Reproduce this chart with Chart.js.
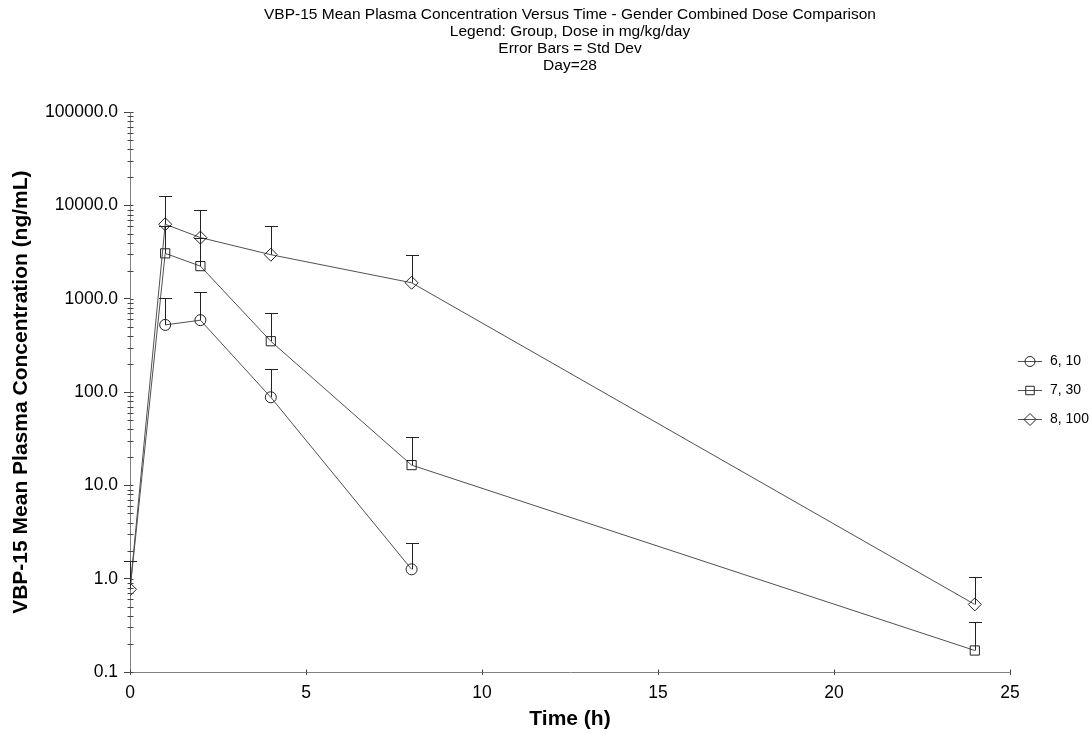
<!DOCTYPE html>
<html><head><meta charset="utf-8">
<script src="https://cdn.jsdelivr.net/npm/chart.js@4.4.1/dist/chart.umd.min.js"></script>
<style>html,body{margin:0;padding:0;background:#fff;} #wrap{width:1092px;height:734px;}</style>
</head><body><div id="wrap"><canvas id="c" width="1092" height="734"></canvas></div>
<script>
const titleLines = [
  'VBP-15 Mean Plasma Concentration Versus Time - Gender Combined Dose Comparison',
  'Legend: Group, Dose in mg/kg/day',
  'Error Bars = Std Dev',
  'Day=28'
];
const seriesLabels = ['6, 10', '7, 30', '8, 100'];
const timesG6 = [1, 2, 4, 8];
const meanG6  = [525, 590, 88, 1.26];
const sdG6    = [495, 590, 87, 1.16];
const timesG7 = [0, 1, 2, 4, 8, 24];
const meanG7  = [0.75, 3070, 2240, 351, 16.5, 0.17];
const sdG7    = [0, 2900, 2260, 356, 16.5, 0.17];
const timesG8 = [0, 1, 2, 4, 8, 24];
const meanG8  = [0.77, 6300, 4530, 2970, 1486, 0.53];
const sdG8    = [0.76, 6300, 4470, 3020, 1484, 0.51];
const xTicks = [0, 5, 10, 15, 20, 25];
const yTicks = [0.1, 1, 10, 100, 1000, 10000, 100000];

const FONT = '"Liberation Sans", Arial, sans-serif';
Chart.defaults.font.family = FONT;
Chart.defaults.color = '#000';

const sdList = [sdG6, sdG7, sdG8];
const styles = [
  {pointStyle: 'circle', radius: 5.5},
  {pointStyle: 'rect', radius: 6.5},
  {pointStyle: 'rectRot', radius: 6.5}
];

function mk(times, means) { return times.map((t, i) => ({x: t, y: means[i]})); }

function ds(i, times, means, radii) {
  return {
    label: seriesLabels[i],
    data: mk(times, means),
    showLine: true,
    borderColor: '#505050',
    borderWidth: 1,
    pointStyle: styles[i].pointStyle,
    pointRadius: radii || styles[i].radius,
    pointBorderColor: '#222',
    pointBorderWidth: 1,
    pointBackgroundColor: 'rgba(0,0,0,0)',
    order: 3 - i
  };
}

const errorBars = {
  id: 'errorBars',
  afterDatasetsDraw(chart) {
    const ctx = chart.ctx, xs = chart.scales.x, ys = chart.scales.y;
    ctx.save();
    ctx.strokeStyle = '#222';
    ctx.lineWidth = 1;
    chart.data.datasets.forEach((d, i) => {
      const sd = sdList[i];
      d.data.forEach((p, j) => {
        if (!sd[j]) return;
        const x = Math.round(xs.getPixelForValue(p.x)) + 0.5;
        const y0 = ys.getPixelForValue(p.y);
        const y1 = Math.round(ys.getPixelForValue(p.y + sd[j])) + 0.5;
        ctx.beginPath();
        ctx.moveTo(x, y0); ctx.lineTo(x, y1);
        ctx.moveTo(x - 6.5, y1); ctx.lineTo(x + 6.5, y1);
        ctx.stroke();
      });
    });
    ctx.restore();
  }
};

const minorTicks = {
  id: 'minorTicks',
  afterDraw(chart) {
    const ctx = chart.ctx, xs = chart.scales.x, ys = chart.scales.y;
    const ax = Math.round(xs.getPixelForValue(0)) + 0.5;
    const ay = Math.round(ys.getPixelForValue(0.1)) + 0.5;
    ctx.save();
    ctx.strokeStyle = '#444';
    ctx.lineWidth = 1;
    ctx.beginPath();
    for (let k = 0; k < yTicks.length - 1; k++) {
      const base = yTicks[k];
      for (let m = 2; m <= 9; m++) {
        const y = Math.round(ys.getPixelForValue(base * m)) + 0.5;
        ctx.moveTo(ax - 3, y); ctx.lineTo(ax + 3, y);
      }
    }
    yTicks.forEach(v => {
      const y = Math.round(ys.getPixelForValue(v)) + 0.5;
      ctx.moveTo(ax, y); ctx.lineTo(ax + 3, y);
    });
    xTicks.forEach(v => {
      const x = Math.round(xs.getPixelForValue(v)) + 0.5;
      ctx.moveTo(x, ay); ctx.lineTo(x, ay - 3);
    });
    ctx.stroke();
    ctx.restore();
  }
};

const sideLegend = {
  id: 'sideLegend',
  afterDraw(chart) {
    const ctx = chart.ctx;
    const area = chart.chartArea;
    const mid = Math.round((area.top + area.bottom) / 2) - 2;
    ctx.save();
    ctx.font = '14px ' + FONT;
    ctx.textBaseline = 'middle';
    ctx.textAlign = 'left';
    seriesLabels.forEach((lab, i) => {
      const y = mid + (i - 1) * 29 + 0.5;
      ctx.strokeStyle = '#505050';
      ctx.lineWidth = 1;
      ctx.beginPath();
      ctx.moveTo(1018, y); ctx.lineTo(1042, y);
      ctx.stroke();
      ctx.strokeStyle = '#222';
      ctx.fillStyle = 'rgba(0,0,0,0)';
      Chart.helpers.drawPoint(ctx, {pointStyle: styles[i].pointStyle, radius: styles[i].radius - 0.5, rotation: 0, borderWidth: 1}, 1030, y);
      ctx.fillStyle = '#000';
      ctx.fillText(lab, 1050, y);
    });
    ctx.restore();
  }
};

new Chart(document.getElementById('c'), {
  type: 'scatter',
  data: {
    datasets: [
      ds(0, timesG6, meanG6),
      ds(1, timesG7, meanG7, timesG7.map(t => t === 0 ? 0 : styles[1].radius)),
      ds(2, timesG8, meanG8)
    ]
  },
  options: {
    responsive: false,
    animation: false,
    devicePixelRatio: 1,
    layout: {padding: {top: 0, right: 82, bottom: 0, left: 0}},
    plugins: {
      legend: {display: false},
      tooltip: {enabled: false},
      title: {
        display: true,
        text: titleLines,
        fullSize: false,
        color: '#000',
        font: {family: FONT, size: 15.5, weight: 'normal', lineHeight: 1.1},
        padding: {top: 6, bottom: 38}
      }
    },
    scales: {
      x: {
        type: 'linear', min: 0, max: 25,
        afterBuildTicks: s => { s.ticks = xTicks.map(v => ({value: v})); },
        ticks: {color: '#000', font: {size: 17.5}, padding: 8, maxRotation: 0, autoSkip: false},
        grid: {drawOnChartArea: false, tickLength: 3, color: '#444'},
        border: {color: '#808080'},
        title: {display: true, text: 'Time (h)', color: '#000', font: {size: 21, weight: 'bold'}, padding: {top: 0, bottom: 2}},
        afterFit: s => { s.height = 62; }
      },
      y: {
        type: 'logarithmic', min: 0.1, max: 100000,
        afterBuildTicks: s => { s.ticks = yTicks.map(v => ({value: v})); },
        ticks: {color: '#000', font: {size: 17.5}, padding: 6, autoSkip: false, callback: v => Number(v).toFixed(1)},
        grid: {drawOnChartArea: false, tickLength: 6, color: '#444'},
        border: {color: '#808080'},
        title: {display: true, text: 'VBP-15 Mean Plasma Concentration (ng/mL)', color: '#000', font: {size: 21, weight: 'bold'}, padding: {top: 9, bottom: 0}},
        afterFit: s => { s.width = 130; }
      }
    }
  },
  plugins: [errorBars, minorTicks, sideLegend]
});
</script>
</body></html>
